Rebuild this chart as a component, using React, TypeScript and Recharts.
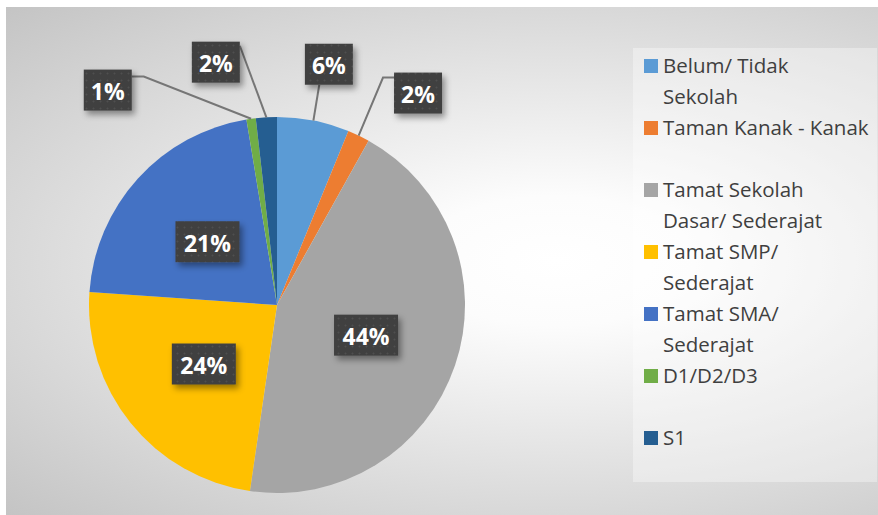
import React from "react";
import { PieChart, Pie, Cell, Legend } from "recharts";

// Education level shares (percent of respondents)
const categories = [
  "Belum/ Tidak Sekolah",
  "Taman Kanak - Kanak",
  "Tamat Sekolah Dasar/ Sederajat",
  "Tamat SMP/ Sederajat",
  "Tamat SMA/ Sederajat",
  "D1/D2/D3",
  "S1",
];
const shares = [6.2, 1.9, 44.2, 23.8, 21.3, 0.8, 1.8];
const colors = ["#5b9bd5", "#ed7d31", "#a5a5a5", "#ffc000", "#4472c4", "#70ad47", "#255e91"];
const legendLines = [
  ["Belum/ Tidak", "Sekolah"],
  ["Taman Kanak - Kanak"],
  ["Tamat Sekolah", "Dasar/ Sederajat"],
  ["Tamat SMP/", "Sederajat"],
  ["Tamat SMA/", "Sederajat"],
  ["D1/D2/D3"],
  ["S1"],
];

const data = categories.map((name, i) => ({ name, value: shares[i] }));

// outside labels: angle nudge (deg), distance factor, leader attach point on the box, elbow
const LABEL_LAYOUT: ({ dAngle: number; rFactor: number; attach: [number, number]; elbow: number } | null)[] = [
  { dAngle: 1, rFactor: 1.31, attach: [0.3, 1], elbow: 0 },
  { dAngle: 7.9, rFactor: 1.354, attach: [0, 0.12], elbow: -11 },
  null,
  null,
  null,
  { dAngle: -30.3, rFactor: 1.455, attach: [1, 0.17], elbow: 12 },
  { dAngle: -10.9, rFactor: 1.332, attach: [1, 0.1], elbow: 0 },
];

const RAD = Math.PI / 180;
const FONT = "'Open Sans', 'DejaVu Sans', sans-serif";

function renderLabel(props: any) {
  const { cx, cy, midAngle, outerRadius, percent, index } = props;
  const layout = LABEL_LAYOUT[index];
  const base = 90 - midAngle; // clockwise from 12 o'clock
  const theta = (base + (layout ? layout.dAngle : 0)) * RAD;
  const r = layout ? outerRadius * layout.rFactor : outerRadius * 0.5;
  const lx = cx + r * Math.sin(theta);
  const ly = cy - r * Math.cos(theta);
  const text = `${Math.round(percent * 100)}%`;
  const w = text.length > 2 ? 64 : 48;
  const h = 41;
  const x0 = lx - w / 2;
  const y0 = ly - h / 2;

  let line = null;
  if (layout) {
    const sx = cx + outerRadius * Math.sin(base * RAD);
    const sy = cy - outerRadius * Math.cos(base * RAD);
    const ax = x0 + layout.attach[0] * w;
    const ay = y0 + layout.attach[1] * h;
    const pts = layout.elbow
      ? `${sx},${sy} ${ax + layout.elbow},${ay} ${ax},${ay}`
      : `${sx},${sy} ${ax},${ay}`;
    line = <polyline points={pts} fill="none" stroke="#767676" strokeWidth={2} />;
  }

  return (
    <g key={`lbl-${index}`}>
      {line}
      <rect x={x0} y={y0} width={w} height={h} fill="url(#dotTexture)" filter="url(#labelShadow)" />
      <text
        x={lx}
        y={ly + 1}
        fill="#ffffff"
        fontFamily={FONT}
        fontWeight={700}
        fontSize={23}
        textAnchor="middle"
        dominantBaseline="central"
      >
        {text}
      </text>
    </g>
  );
}

function CustomLegend() {
  return (
    <div style={{ paddingTop: 2, paddingLeft: 11, fontFamily: FONT, fontSize: 20.5, color: "#3f3f3f" }}>
      {legendLines.map((lines, i) => (
        <div key={i} style={{ display: "flex", height: 62, alignItems: "flex-start" }}>
          <div style={{ width: 14, height: 14, background: colors[i], marginTop: 8.5, marginRight: 5, flex: "none" }} />
          <div style={{ lineHeight: "31px", whiteSpace: "nowrap" }}>
            {lines.map((l, j) => (
              <div key={j}>{l}</div>
            ))}
          </div>
        </div>
      ))}
    </div>
  );
}

export default function App() {
  return (
    <div style={{ position: "fixed", left: 0, top: 0, width: 878, height: 515, background: "#ffffff", overflow: "hidden" }}>
      <svg width={0} height={0} style={{ position: "absolute" }}>
        <defs>
          <pattern id="dotTexture" width={7} height={7} patternUnits="userSpaceOnUse">
            <rect width={7} height={7} fill="#404040" />
            <circle cx={3.5} cy={3.5} r={1} fill="#4f4f4f" />
          </pattern>
          <filter id="labelShadow" x="-30%" y="-30%" width="160%" height="170%">
            <feDropShadow dx={3} dy={4} stdDeviation={3} floodColor="#000" floodOpacity={0.4} />
          </filter>
        </defs>
      </svg>
      <div
        style={{
          position: "absolute",
          left: 6,
          top: 7,
          width: 872,
          height: 508,
          background: "radial-gradient(ellipse farthest-corner at 63% 50%, #ffffff 0%, #fcfcfc 18%, #c4c4c4 100%)",
        }}
      >
        <PieChart width={872} height={508} margin={{ top: 0, right: 0, bottom: 0, left: 0 }}>
          <Pie
            data={data}
            dataKey="value"
            nameKey="name"
            cx={271}
            cy={298}
            outerRadius={188}
            startAngle={90}
            endAngle={-270}
            stroke="none"
            label={renderLabel}
            labelLine={false}
            isAnimationActive={false}
          >
            {data.map((_, i) => (
              <Cell key={`cell-${i}`} fill={colors[i]} />
            ))}
          </Pie>
          <Legend
            layout="vertical"
            align="right"
            verticalAlign="top"
            content={() => <CustomLegend />}
            wrapperStyle={{ left: 627, top: 41, width: 244, height: 434, background: "rgba(255,255,255,0.35)" }}
          />
        </PieChart>
      </div>
    </div>
  );
}
